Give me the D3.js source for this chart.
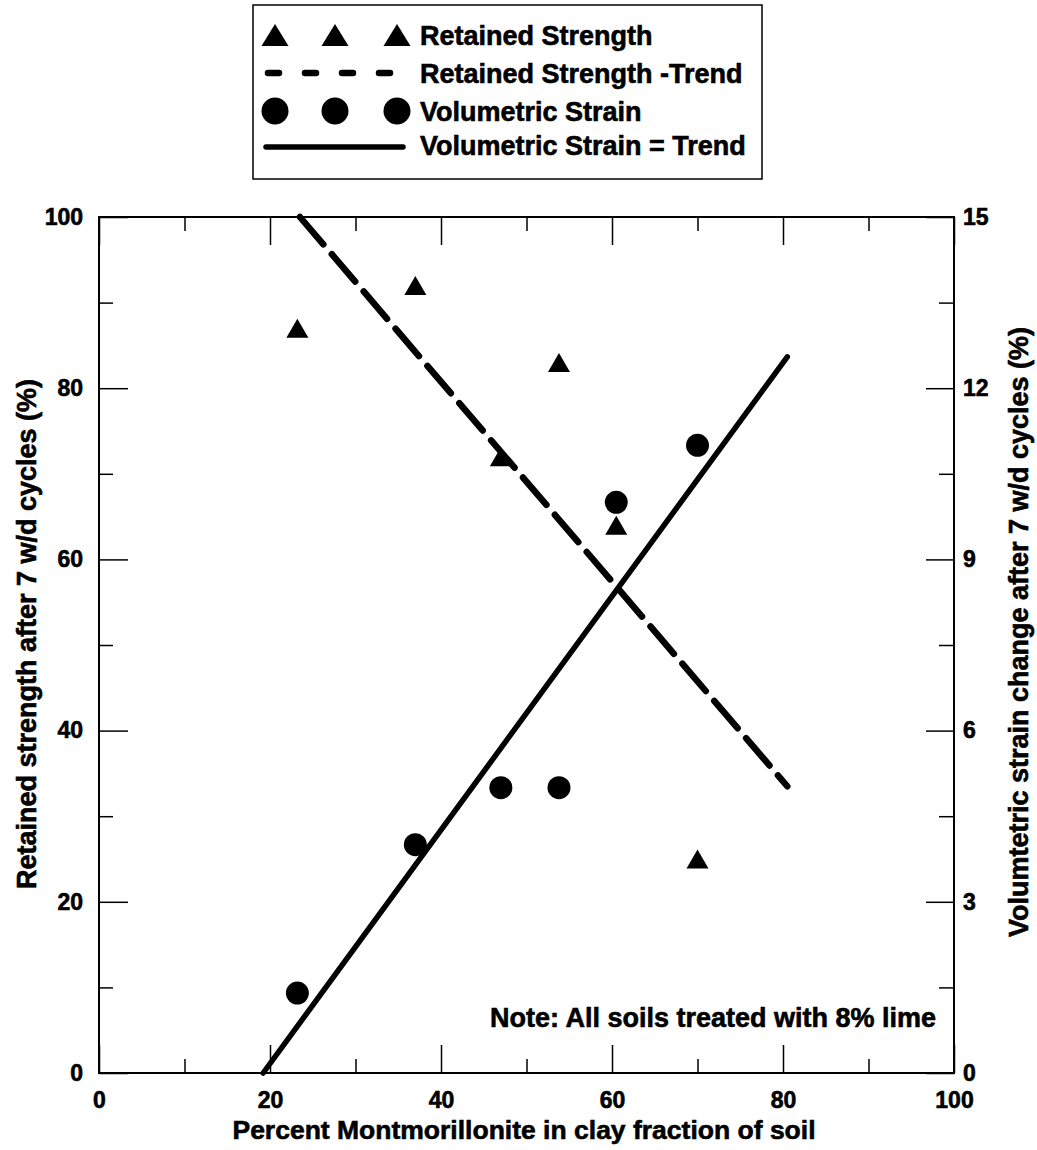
<!DOCTYPE html>
<html>
<head>
<meta charset="utf-8">
<script src="https://cdn.jsdelivr.net/npm/d3@7"></script>
<style>
  html, body { margin: 0; padding: 0; background: #fff; }
  svg { display: block; }
  text { font-family: "Liberation Sans", Arial, sans-serif; font-weight: bold; fill: #000;
         stroke: #000; stroke-width: 0.6px; }
</style>
</head>
<body>
<svg id="chart" width="1037" height="1150"></svg>
<script>
// ---------- data ----------
const montmorillonite   = [23.2, 37, 47, 53.8, 60.5, 70];
const retainedStrength  = [87, 92, 72, 83, 64, 25];
const volumetricStrain  = [1.4, 4.0, 5.0, 5.0, 10.0, 11.0];
const strengthTrendX    = [23.5, 80.5];
const strengthTrendY    = [100, 33.5];
const strainTrendX      = [19.2, 80.5];
const strainTrendY      = [0, 12.55];
const xTickValues       = [0, 20, 40, 60, 80, 100];
const xMinorTicks       = [10, 30, 50, 70, 90];
const leftTickValues    = [0, 20, 40, 60, 80, 100];
const leftMinorTicks    = [10, 30, 50, 70, 90];
const rightTickValues   = [0, 3, 6, 9, 12, 15];
const rightMinorTicks   = [1.5, 4.5, 7.5, 10.5, 13.5];
const legendLabels      = ["Retained Strength", "Retained Strength -Trend", "Volumetric Strain", "Volumetric Strain = Trend"];
const xTitle            = "Percent Montmorillonite in clay fraction of soil";
const leftTitle         = "Retained strength after 7 w/d cycles (%)";
const rightTitle        = "Volumtetric strain change after 7 w/d cycles (%)";
const noteText          = "Note: All soils treated with 8% lime";

// ---------- layout ----------
const L = 99, R = 954, T = 217, B = 1073;
const svg = d3.select("#chart");
const x  = d3.scaleLinear().domain([0, 100]).range([L, R]);
const yL = d3.scaleLinear().domain([0, 100]).range([B, T]);
const yR = d3.scaleLinear().domain([0, 15]).range([B, T]);

// triangle symbol centered on its bounding box
function triangleType(w, h) {
  return { draw(ctx) {
    ctx.moveTo(0, -h / 2);
    ctx.lineTo(w / 2, h / 2);
    ctx.lineTo(-w / 2, h / 2);
    ctx.closePath();
  }};
}

// ---------- axes ----------
function styleAxis(g) {
  g.select(".domain").remove();
  g.selectAll(".tick line").attr("stroke", "#000").attr("stroke-width", 1.5);
  g.selectAll(".tick text").attr("fill", "#000").style("font-size", "23px")
    .style("font-family", '"Liberation Sans", Arial, sans-serif').style("font-weight", "bold");
}

// bottom
const gB = svg.append("g").attr("transform", `translate(0,${B})`)
  .call(d3.axisBottom(x).tickValues(xTickValues).tickSizeInner(-28).tickSizeOuter(0).tickPadding(35).tickFormat(d3.format("d")));
styleAxis(gB);
gB.selectAll(".tick text").attr("dy", "0");
const gBm = svg.append("g").attr("transform", `translate(0,${B})`)
  .call(d3.axisBottom(x).tickValues(xMinorTicks).tickSizeInner(-14).tickSizeOuter(0).tickFormat(""));
styleAxis(gBm);

// top
const gT = svg.append("g").attr("transform", `translate(0,${T})`)
  .call(d3.axisTop(x).tickValues(xTickValues).tickSizeInner(-28).tickSizeOuter(0).tickFormat(""));
styleAxis(gT);
const gTm = svg.append("g").attr("transform", `translate(0,${T})`)
  .call(d3.axisTop(x).tickValues(xMinorTicks).tickSizeInner(-14).tickSizeOuter(0).tickFormat(""));
styleAxis(gTm);

// left
const gL = svg.append("g").attr("transform", `translate(${L},0)`)
  .call(d3.axisLeft(yL).tickValues(leftTickValues).tickSizeInner(-29).tickSizeOuter(0).tickPadding(16).tickFormat(d3.format("d")));
styleAxis(gL);
const gLm = svg.append("g").attr("transform", `translate(${L},0)`)
  .call(d3.axisLeft(yL).tickValues(leftMinorTicks).tickSizeInner(-14).tickSizeOuter(0).tickFormat(""));
styleAxis(gLm);

// right
const gR = svg.append("g").attr("transform", `translate(${R},0)`)
  .call(d3.axisRight(yR).tickValues(rightTickValues).tickSizeInner(-28).tickSizeOuter(0).tickPadding(9).tickFormat(d3.format("d")));
styleAxis(gR);
const gRm = svg.append("g").attr("transform", `translate(${R},0)`)
  .call(d3.axisRight(yR).tickValues(rightMinorTicks).tickSizeInner(-15).tickSizeOuter(0).tickFormat(""));
styleAxis(gRm);

// frame
svg.append("rect").attr("x", L).attr("y", T).attr("width", R - L).attr("height", B - T)
  .attr("fill", "none").attr("stroke", "#000").attr("stroke-width", 2);

// ---------- trend lines ----------
const line = d3.line();
svg.append("path")
  .attr("d", line(strengthTrendX.map((d, i) => [x(d), yL(strengthTrendY[i])])))
  .attr("fill", "none").attr("stroke", "#000").attr("stroke-width", 6.5)
  .attr("stroke-linecap", "round").attr("stroke-dasharray", "36,13");
svg.append("path")
  .attr("d", line(strainTrendX.map((d, i) => [x(d), yR(strainTrendY[i])])))
  .attr("fill", "none").attr("stroke", "#000").attr("stroke-width", 5.5)
  .attr("stroke-linecap", "round");

// ---------- markers ----------
const tri = d3.symbol().type(triangleType(22, 19));
svg.append("g").selectAll("path").data(montmorillonite).join("path")
  .attr("d", tri).attr("fill", "#000")
  .attr("transform", (d, i) => `translate(${x(d)},${yL(retainedStrength[i])})`);
svg.append("g").selectAll("circle").data(montmorillonite).join("circle")
  .attr("cx", d => x(d)).attr("cy", (d, i) => yR(volumetricStrain[i]))
  .attr("r", 11.5).attr("fill", "#000");

// ---------- note ----------
svg.append("text").attr("x", 936).attr("y", 1027).attr("text-anchor", "end")
  .style("font-size", "27px").text(noteText);

// ---------- axis titles ----------
svg.append("text").attr("x", 524).attr("y", 1139).attr("text-anchor", "middle")
  .style("font-size", "26.5px").text(xTitle);
svg.append("text").attr("transform", `translate(36,634) rotate(-90)`)
  .attr("text-anchor", "middle").style("font-size", "27px").text(leftTitle);
svg.append("text").attr("transform", `translate(1028,632) rotate(-90)`)
  .attr("text-anchor", "middle").style("font-size", "27px").text(rightTitle);

// ---------- legend ----------
const lg = svg.append("g");
lg.append("rect").attr("x", 253).attr("y", 5).attr("width", 509).attr("height", 174)
  .attr("fill", "#fff").attr("stroke", "#000").attr("stroke-width", 1.5);
const legendX = [275, 335, 397];
const rowY = [35, 73, 111, 147];
const baseY = [45, 83, 121, 155];
const ltri = d3.symbol().type(triangleType(27, 22));
legendX.forEach(cx => lg.append("path").attr("d", ltri).attr("fill", "#000")
  .attr("transform", `translate(${cx},${rowY[0]})`));
lg.append("line").attr("x1", 268).attr("x2", 390).attr("y1", rowY[1]).attr("y2", rowY[1])
  .attr("stroke", "#000").attr("stroke-width", 6.5).attr("stroke-linecap", "round")
  .attr("stroke-dasharray", "11,26");
legendX.forEach(cx => lg.append("circle").attr("cx", cx).attr("cy", rowY[2]).attr("r", 13.5).attr("fill", "#000"));
lg.append("line").attr("x1", 266).attr("x2", 403).attr("y1", rowY[3]).attr("y2", rowY[3])
  .attr("stroke", "#000").attr("stroke-width", 5.5).attr("stroke-linecap", "round");
legendLabels.forEach((t, i) => lg.append("text").attr("x", 420).attr("y", baseY[i])
  .style("font-size", "27px").text(t));
</script>
</body>
</html>
